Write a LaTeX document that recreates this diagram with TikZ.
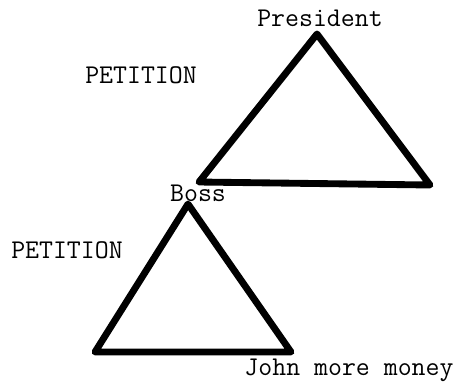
\documentclass[tikz,border=0pt]{standalone}
\usepackage{tikz}
\usetikzlibrary{positioning}
\tikzset{
  label text/.style={font=\ttfamily\fontsize{15.4}{18}\selectfont, anchor=base, inner sep=0pt},
  rank edge/.style={line width=3.9pt, line join=round, line cap=round}
}
\begin{document}
\begin{tikzpicture}[x=0.02cm, y=-0.02cm]
  \useasboundingbox (0,0) rectangle (460,383);

  % --- Upper triangle: President over Boss ---
  \coordinate (presTop)   at (317,34);
  \coordinate (presLeft)  at (199,182);
  \coordinate (presRight) at (430,185);
  \draw[rank edge] (presTop) -- (presLeft) -- (presRight) -- cycle;
  \node[label text] (president) at (320,26) {President};
  \node[label text] (petitionUp) at (141,83) {PETITION};

  % --- Lower triangle: Boss over John ---
  \coordinate (bossTop)   at (188,204);
  \coordinate (bossLeft)  at (95,352);
  \coordinate (bossRight) at (291,352);
  \draw[rank edge] (bossTop) -- (bossLeft) -- (bossRight) -- cycle;
  \node[label text] (boss) at (198,201) {Boss};
  \node[label text] (petitionLow) at (67,258) {PETITION};
  \node[label text] (john) at (349,375) {John more money};
\end{tikzpicture}
\end{document}
